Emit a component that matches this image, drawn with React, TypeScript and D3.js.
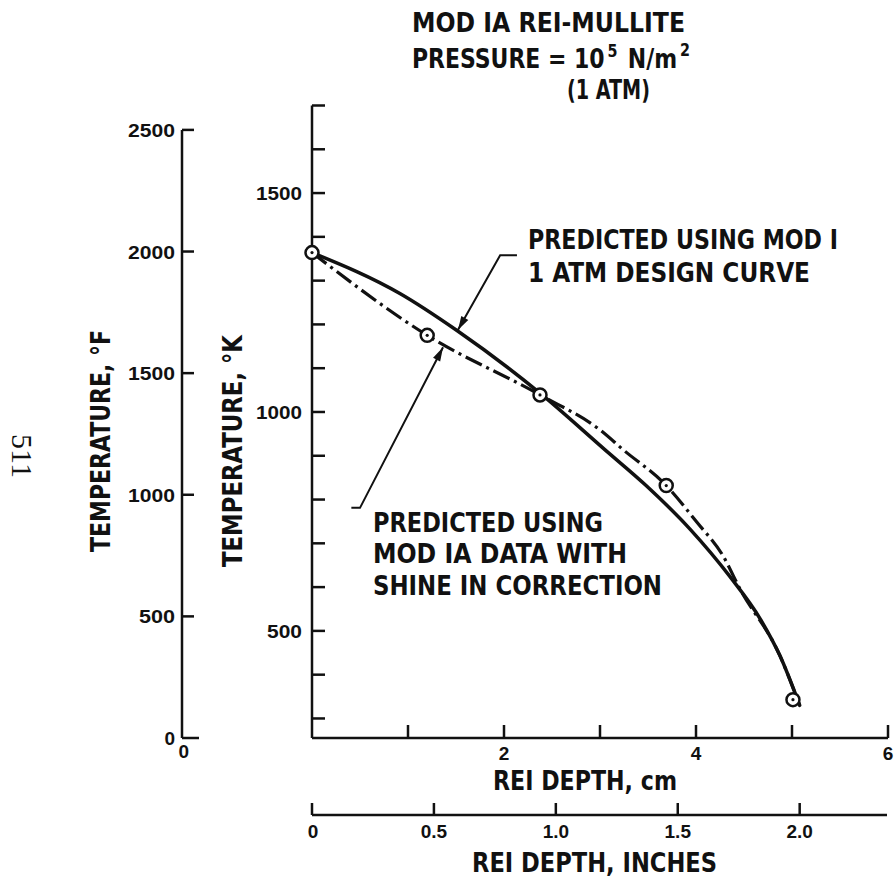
import React from "react";
import * as d3 from "d3";

// ---- data ----
const measuredDepthCm = [0, 1.2, 2.375, 3.69, 5.01];
const measuredTempK = [1364, 1175, 1039, 832, 343];

const modIDepthCm = [0, 0.92, 1.51, 2.375, 3.05, 3.48, 3.94, 4.35, 4.67, 4.875, 5.08];
const modITempK = [1364, 1270, 1186, 1043, 914, 832, 732, 625, 527, 443, 330];

const modIADepthCm = [0, 1.2, 2.375, 3.0, 3.24, 3.69, 4.01, 4.28, 4.46, 4.875, 5.08];
const modIATempK = [1364, 1175, 1039, 959, 914, 832, 748, 672, 595, 443, 330];

const kelvinTicks = [300, 400, 500, 600, 700, 800, 900, 1000, 1100, 1200, 1300, 1400, 1500, 1600, 1700];
const kelvinLabels = [500, 1000, 1500];
const fahrenheitTicks = [0, 500, 1000, 1500, 2000, 2500];
const cmTicks = [1, 2, 3, 4, 5, 6];
const cmLabels = [2, 4, 6];
const inchTicks = [0, 0.5, 1.0, 1.5, 2.0];
const inchLabels = ["0", "0.5", "1.0", "1.5", "2.0"];

const titleLine1 = "MOD IA REI-MULLITE";
const titleLine3 = "(1 ATM)";
const upperNote = ["PREDICTED USING MOD I", "1 ATM DESIGN CURVE"];
const lowerNote = ["PREDICTED USING", "MOD IA DATA WITH", "SHINE IN CORRECTION"];

const fToK = (f: number) => ((f - 32) * 5) / 9 + 273.15;

const BOLD = "'Liberation Sans Narrow', 'DejaVu Sans Condensed', 'Roboto Condensed', 'Liberation Sans', sans-serif";
const NUM = "'Liberation Sans', Arial, sans-serif";
const INK = "#111";

function arrowHead(tx: number, ty: number, fx: number, fy: number, len = 14, half = 4) {
  const a = Math.atan2(ty - fy, tx - fx);
  const bx = tx - len * Math.cos(a);
  const by = ty - len * Math.sin(a);
  const px = -Math.sin(a) * half;
  const py = Math.cos(a) * half;
  return `M${tx},${ty}L${bx + px},${by + py}L${bx - px},${by - py}Z`;
}

export default function App() {
  const x = d3.scaleLinear().domain([0, 6]).range([312, 888]);
  const xIn = d3.scaleLinear().domain([0, 6 / 2.54]).range([312, 888]);
  const yK = d3.scaleLinear().domain([fToK(0), 1700]).range([738, 105.5]);
  const yF = d3.scaleLinear().domain([0, 2500]).range([yK(fToK(0)), yK(fToK(2500))]);

  const baseY = yK(fToK(0));
  const fAxisX = 182;
  const inchAxisY = 815;

  const modIPts = modIDepthCm.map((d, i) => [d, modITempK[i]] as [number, number]);
  const modIAPts = modIADepthCm.map((d, i) => [d, modIATempK[i]] as [number, number]);
  const line = d3
    .line<[number, number]>()
    .x((d) => x(d[0]))
    .y((d) => yK(d[1]))
    .curve(d3.curveMonotoneX);

  // annotation leaders (in data space)
  const upTip = [x(1.52), yK(1187)];
  const upTail = [x(1.96), yK(1358)];
  const upHook = [x(2.135), yK(1358)];
  const loTip = [x(1.365), yK(1148)];
  const loTail = [x(0.5), yK(781)];
  const loHook = [x(0.41), yK(781)];

  return (
    <svg
      width={894}
      height={880}
      style={{ position: "absolute", left: 0, top: 0, background: "#fff" }}
    >
      <rect width={894} height={880} fill="#fff" />

      {/* Title */}
      <g fontFamily={BOLD} fontWeight="bold" fill={INK}>
        <text x={412} y={32} fontSize={26} textLength={273} lengthAdjust="spacingAndGlyphs">
          {titleLine1}
        </text>
        <text x={412} y={68} fontSize={26} textLength={278} lengthAdjust="spacingAndGlyphs">
          PRESSURE = 10
          <tspan fontSize={17} dy={-11} dx={3}>5</tspan>
          <tspan dy={11} dx={3}> N/m</tspan>
          <tspan fontSize={17} dy={-12} dx={3}>2</tspan>
        </text>
        <text x={567} y={99} fontSize={26} textLength={83} lengthAdjust="spacingAndGlyphs">
          {titleLine3}
        </text>
      </g>

      {/* page number */}
      <text
        transform="translate(12,456) rotate(90)"
        textAnchor="middle"
        fontFamily="'Liberation Serif', 'DejaVu Serif', serif"
        fontSize={30}
        fill={INK}
      >
        511
      </text>

      {/* Fahrenheit axis */}
      <g stroke={INK} strokeWidth={2.5} fill="none">
        <line x1={fAxisX} x2={fAxisX} y1={yF(2500)} y2={yF(0)} />
        {fahrenheitTicks.map((t) => (
          <line key={t} x1={fAxisX} x2={fAxisX + (t === 0 ? 17 : 12)} y1={yF(t)} y2={yF(t)} />
        ))}
      </g>
      <g fontFamily={NUM} fontWeight="bold" fontSize={19} fill={INK} textAnchor="end">
        {fahrenheitTicks
          .filter((t) => t > 0)
          .map((t) => (
            <text key={t} x={fAxisX - 7} y={yF(t) + 7} textLength={t >= 1000 ? 47 : 36} lengthAdjust="spacingAndGlyphs">
              {t}
            </text>
          ))}
        <text x={175} y={yF(0) + 7}>0</text>
        <text x={189} y={yF(0) + 20}>0</text>
      </g>
      <text
        transform={`translate(110,441) rotate(-90)`}
        textAnchor="middle"
        fontFamily={BOLD}
        fontWeight="bold"
        fontSize={27}
        fill={INK}
        textLength={222}
        lengthAdjust="spacingAndGlyphs"
      >
        TEMPERATURE, °F
      </text>

      {/* Kelvin axis */}
      <g stroke={INK} strokeWidth={2.5} fill="none">
        <line x1={x(0)} x2={x(0)} y1={yK(1700)} y2={baseY} />
        {kelvinTicks.map((t) => (
          <line key={t} x1={x(0)} x2={x(0) + 13} y1={yK(t)} y2={yK(t)} />
        ))}
      </g>
      <g fontFamily={NUM} fontWeight="bold" fontSize={19} fill={INK} textAnchor="end">
        {kelvinLabels.map((t) => (
          <text key={t} x={x(0) - 10} y={yK(t) + 7} textLength={t >= 1000 ? 46 : 35} lengthAdjust="spacingAndGlyphs">
            {t}
          </text>
        ))}
      </g>
      <text
        transform={`translate(242,451) rotate(-90)`}
        textAnchor="middle"
        fontFamily={BOLD}
        fontWeight="bold"
        fontSize={27}
        fill={INK}
        textLength={232}
        lengthAdjust="spacingAndGlyphs"
      >
        TEMPERATURE, °K
      </text>

      {/* cm axis */}
      <g stroke={INK} strokeWidth={2.5} fill="none">
        <line x1={x(0)} x2={x(6)} y1={baseY} y2={baseY} />
        {cmTicks.map((t) => (
          <line key={t} x1={x(t)} x2={x(t)} y1={baseY} y2={baseY - 13} />
        ))}
      </g>
      <g fontFamily={NUM} fontWeight="bold" fontSize={19} fill={INK} textAnchor="middle">
        {cmLabels.map((t) => (
          <text key={t} x={x(t)} y={baseY + 22}>
            {t}
          </text>
        ))}
      </g>
      <text x={493} y={790} fontFamily={BOLD} fontWeight="bold" fontSize={27} fill={INK} textLength={184} lengthAdjust="spacingAndGlyphs">
        REI DEPTH, cm
      </text>

      {/* inch axis */}
      <g stroke={INK} strokeWidth={2.5} fill="none">
        <line x1={xIn(0)} x2={xIn(6 / 2.54) - 1} y1={inchAxisY} y2={inchAxisY} />
        {inchTicks.map((t) => (
          <line key={t} x1={xIn(t)} x2={xIn(t)} y1={inchAxisY} y2={inchAxisY - 12} />
        ))}
      </g>
      <g fontFamily={NUM} fontWeight="bold" fontSize={19} fill={INK} textAnchor="middle">
        {inchTicks.map((t, i) => (
          <text key={t} x={xIn(t) + (i === 0 ? 1 : 0)} y={inchAxisY + 23}>
            {inchLabels[i]}
          </text>
        ))}
      </g>
      <text x={472} y={872} fontFamily={BOLD} fontWeight="bold" fontSize={27} fill={INK} textLength={245} lengthAdjust="spacingAndGlyphs">
        REI DEPTH, INCHES
      </text>

      {/* curves */}
      <path d={line(modIPts) || ""} fill="none" stroke={INK} strokeWidth={3.5} strokeLinecap="round" />
      <path
        d={line(modIAPts) || ""}
        fill="none"
        stroke={INK}
        strokeWidth={3.2}
        strokeDasharray="18 5 3 5"
      />

      {/* measured points */}
      {measuredDepthCm.map((d, i) => (
        <g key={i}>
          <circle cx={x(d)} cy={yK(measuredTempK[i])} r={6.5} fill="#fff" stroke={INK} strokeWidth={2.5} />
          <circle cx={x(d)} cy={yK(measuredTempK[i])} r={1.6} fill={INK} />
        </g>
      ))}

      {/* annotation leaders */}
      <g stroke={INK} strokeWidth={2} fill="none">
        <polyline points={`${upHook[0]},${upHook[1]} ${upTail[0]},${upTail[1]} ${upTip[0]},${upTip[1]}`} />
        <polyline points={`${loHook[0]},${loHook[1]} ${loTail[0]},${loTail[1]} ${loTip[0]},${loTip[1]}`} />
      </g>
      <path d={arrowHead(upTip[0], upTip[1], upTail[0], upTail[1])} fill={INK} />
      <path d={arrowHead(loTip[0], loTip[1], loTail[0], loTail[1])} fill={INK} />

      {/* annotation texts */}
      <g fontFamily={BOLD} fontWeight="bold" fontSize={26} fill={INK}>
        <text x={528} y={249} textLength={310} lengthAdjust="spacingAndGlyphs">
          {upperNote[0]}
        </text>
        <text x={528} y={282} textLength={282} lengthAdjust="spacingAndGlyphs">
          {upperNote[1]}
        </text>
        <text x={373} y={532} textLength={230} lengthAdjust="spacingAndGlyphs">
          {lowerNote[0]}
        </text>
        <text x={373} y={563} textLength={254} lengthAdjust="spacingAndGlyphs">
          {lowerNote[1]}
        </text>
        <text x={373} y={595} textLength={289} lengthAdjust="spacingAndGlyphs">
          {lowerNote[2]}
        </text>
      </g>
    </svg>
  );
}
